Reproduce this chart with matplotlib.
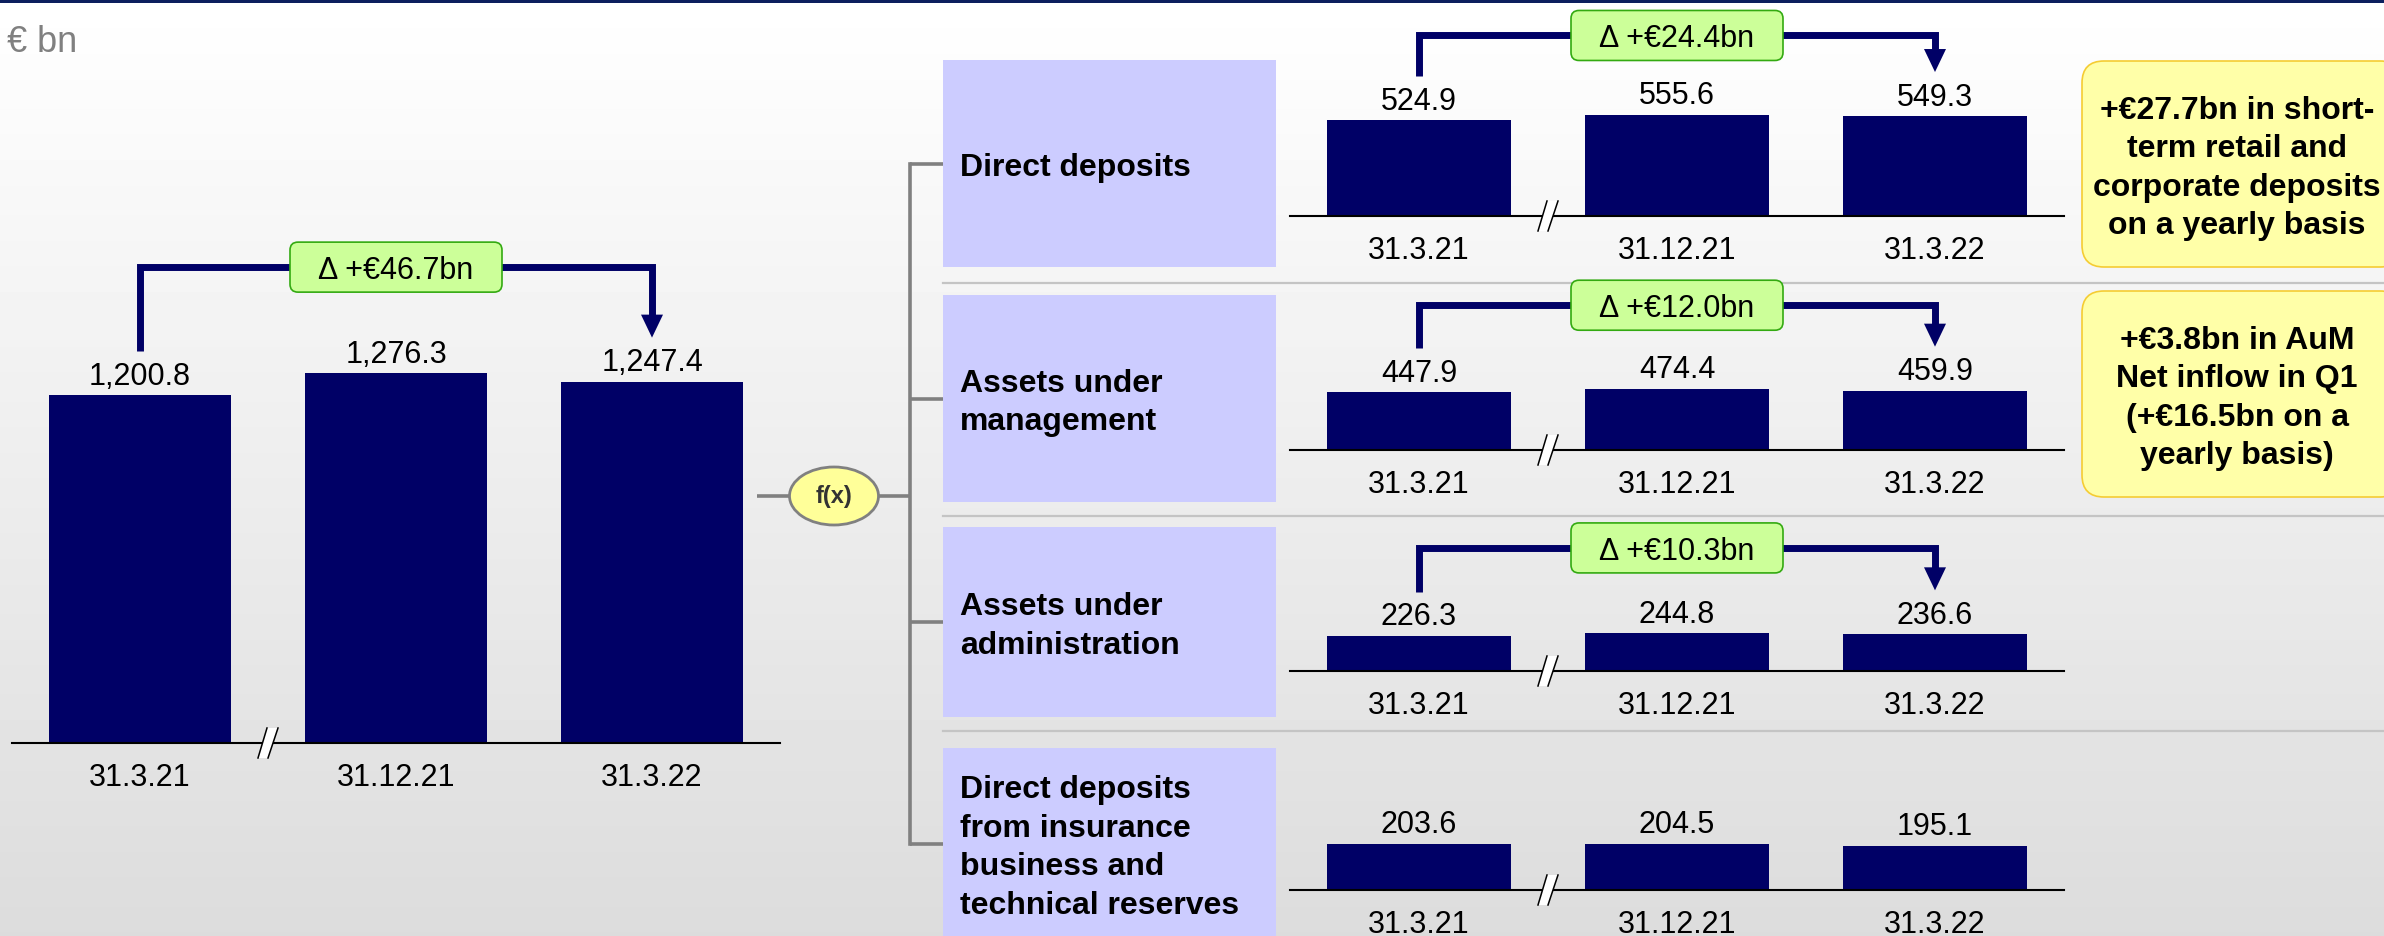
import matplotlib.pyplot as plt
import numpy as np
from matplotlib.patches import Rectangle, FancyBboxPatch, Ellipse, Polygon

plt.rcParams['font.family'] = ['Liberation Sans', 'DejaVu Sans']

# ---- data ----
dates = ["31.3.21", "31.12.21", "31.3.22"]
total = [1200.8, 1276.3, 1247.4]
total_delta = "Δ +€46.7bn"

segments = [
    "Direct deposits",
    "Assets under\nmanagement",
    "Assets under\nadministration",
    "Direct deposits\nfrom insurance\nbusiness and\ntechnical reserves",
]
direct_deposits = [524.9, 555.6, 549.3]
assets_under_mgmt = [447.9, 474.4, 459.9]
assets_under_admin = [226.3, 244.8, 236.6]
insurance_deposits = [203.6, 204.5, 195.1]
segment_values = [direct_deposits, assets_under_mgmt, assets_under_admin, insurance_deposits]
segment_deltas = ["Δ +€24.4bn", "Δ +€12.0bn", "Δ +€10.3bn", None]

notes = [
    "+€27.7bn in short-\nterm retail and\ncorporate deposits\non a yearly basis",
    "+€3.8bn in AuM\nNet inflow in Q1\n(+€16.5bn on a\nyearly basis)",
]

# ---- layout (pixels) ----
W, H = 2384, 937
NAVY = '#000066'
GREY = '#808080'
FS = 22
LINE = 38.5

fig = plt.figure(figsize=(W / 100, H / 100), dpi=100)

# background gradient
bg = fig.add_axes([0, 0, 1, 1], zorder=0)
grad = np.linspace(1.0, 0.863, 256).reshape(-1, 1)
bg.imshow(grad, cmap='gray', vmin=0, vmax=1, aspect='auto', extent=[0, 1, 0, 1])
bg.set_axis_off()

# overlay in pixel coordinates (y down)
ov = fig.add_axes([0, 0, 1, 1], zorder=3)
ov.set_xlim(0, W)
ov.set_ylim(H, 0)
ov.set_axis_off()
ov.patch.set_alpha(0)


def to_px(ax, x, y):
    return ov.transData.inverted().transform(ax.transData.transform((x, y)))


def bar_axes(x0, x1, base, height, px_per_unit):
    ax = fig.add_axes([x0 / W, (H - base) / H, (x1 - x0) / W, height / H], zorder=2)
    ax.set_xlim(-0.5, 2.5)
    ax.set_ylim(0, height / px_per_unit)
    ax.patch.set_alpha(0)
    for s in ['left', 'right', 'top']:
        ax.spines[s].set_visible(False)
    ax.spines['bottom'].set_linewidth(1.5)
    ax.spines['bottom'].set_color('black')
    ax.set_xticks([])
    ax.set_yticks([])
    return ax


def draw_chart(ax, values, rise, delta):
    ax.bar(range(len(values)), values, width=0.71, color=NAVY)
    for i, v in enumerate(values):
        px, py = to_px(ax, i, v)
        ov.text(px, py - 11.5, f"{v:,.1f}", ha='center', va='baseline', fontsize=FS)
        bx, by = to_px(ax, i, 0)
        ov.text(bx, by + 42, dates[i], ha='center', va='baseline', fontsize=FS)
    # axis break mark
    cx, cy = to_px(ax, 0.5, 0)
    ov.add_patch(Polygon([(cx - 10, cy + 15), (cx - 1, cy - 15), (cx + 10, cy - 15), (cx, cy + 15)],
                         closed=True, fc='white', ec='none', zorder=4))
    ov.plot([cx - 10, cx - 1], [cy + 15, cy - 15], color='black', lw=1.1, zorder=5)
    ov.plot([cx, cx + 10], [cy + 15, cy - 15], color='black', lw=1.1, zorder=5)
    if delta is None:
        return
    x0, y0 = to_px(ax, 0, values[0])
    x2, y2 = to_px(ax, 2, values[2])
    level = y0 - rise
    ov.plot([x0, x0, x2, x2], [y0 - 44, level, level, y2 - 44 - 22], color=NAVY, lw=5,
            solid_joinstyle='miter', solid_capstyle='butt', zorder=4)
    ov.add_patch(Polygon([(x2 - 11, y2 - 44 - 23), (x2 + 11, y2 - 44 - 23), (x2, y2 - 44)],
                         closed=True, fc=NAVY, ec='none', zorder=4))
    xm = (x0 + x2) / 2
    ov.add_patch(FancyBboxPatch((xm - 106, level - 25), 212, 50,
                                boxstyle='round,pad=0,rounding_size=8',
                                fc='#ccff99', ec='#33aa11', lw=1.2, zorder=5))
    ov.text(xm, level + 11, delta, ha='center', va='baseline', fontsize=FS, zorder=6)


def line_block(x, yc, text, ha, **kw):
    lines = text.split('\n')
    first = yc + 11.5 - LINE * (len(lines) - 1) / 2
    for k, ln in enumerate(lines):
        ov.text(x, first + k * LINE, ln, ha=ha, va='baseline', **kw)


# top rule and unit
ov.add_patch(Rectangle((0, 0), W, 3.5, fc='#0c1f5e', ec='none'))
ov.text(7, 52, "€ bn", color=GREY, fontsize=26, va='baseline')

# left total chart
ax_total = bar_axes(12, 780, 744, 500, 0.2897)
draw_chart(ax_total, total, 128, total_delta)

# f(x) connector and tree
ov.plot([757, 790], [497, 497], color=GREY, lw=2.6, solid_capstyle='butt')
ov.plot([878, 911], [497, 497], color=GREY, lw=2.6, solid_capstyle='butt')
ov.add_patch(Ellipse((834, 497), 89, 58, fc='#ffff99', ec=GREY, lw=2, zorder=4))
ov.text(834, 497, "f(x)", ha='center', va='center', fontsize=17, fontweight='bold',
        color='#333333', zorder=5)

box_top = [61, 296, 528, 749]
box_bot = [268, 503, 718, 940]
baselines = [217, 451, 672, 891]
px_per_unit = [0.182, 0.129, 0.155, 0.227]
rises = [85, 87, 88, 0]
separators = [284, 517, 732]

centers = [(t + b) / 2 for t, b in zip(box_top, box_bot)]
ov.plot([910, 910], [centers[0], centers[-1]], color=GREY, lw=2.6, solid_capstyle='projecting')
for yc in centers:
    ov.plot([910, 943], [yc, yc], color=GREY, lw=2.6, solid_capstyle='butt')

for y in separators:
    ov.plot([943, W], [y, y], color='#c4c4c4', lw=1.6)

for i, name in enumerate(segments):
    ov.add_patch(Rectangle((943, box_top[i]), 333, box_bot[i] - box_top[i], fc='#ccccff', ec='none'))
    line_block(960, centers[i], name, 'left', fontsize=23, fontweight='bold')
    ax = bar_axes(1290, 2064, baselines[i], 110, px_per_unit[i])
    draw_chart(ax, segment_values[i], rises[i], segment_deltas[i])

# yellow notes
note_boxes = [(62, 268), (292, 498)]
for (t, b), txt in zip(note_boxes, notes):
    ov.add_patch(FancyBboxPatch((2082, t), 320, b - t, boxstyle='round,pad=0,rounding_size=22',
                                fc='#ffffa8', ec='#f5cc33', lw=1.2, zorder=4))
    line_block(2237, (t + b) / 2, txt, 'center', fontsize=23, fontweight='bold', zorder=5)

fig.savefig("out.png", dpi=100)
